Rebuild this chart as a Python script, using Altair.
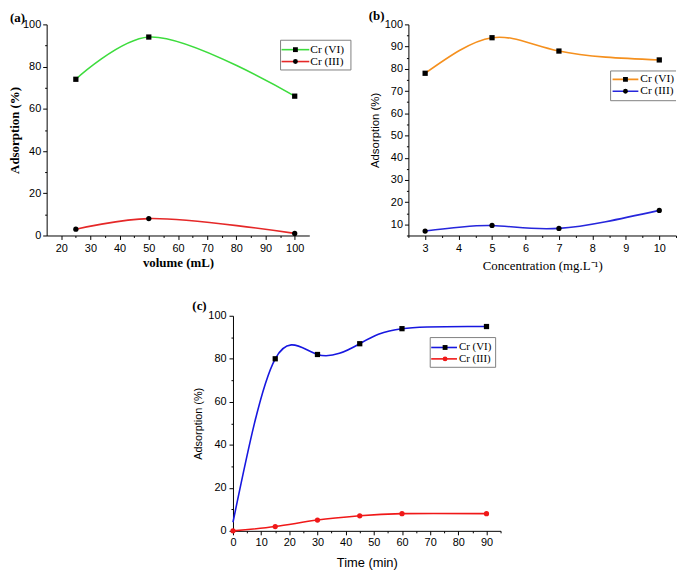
import altair as alt
import pandas as pd

# ---------------- data ----------------
series_names = ["Cr (VI)", "Cr (III)"]

# (a) effect of volume
volume_ml = [25, 50, 100]
vol_cr6 = [74, 94, 66]
vol_cr3 = [3, 8, 1]

# (b) effect of concentration
conc_mgl = [3, 5, 7, 10]
conc_cr6 = [78, 94, 88, 84]
conc_cr3 = [7, 9.5, 8.2, 16.3]

# (c) effect of time
time_min = [0, 15, 30, 45, 60, 90]
time_cr6 = [4, 80, 82, 87, 94, 95]
time_cr3 = [0, 2, 5, 7, 8, 8]

# tick values (major + minor)
a_x_ticks = [20, 25, 30, 35, 40, 45, 50, 55, 60, 65, 70, 75, 80, 85, 90, 95, 100]
a_y_ticks = [0, 10, 20, 30, 40, 50, 60, 70, 80, 90, 100]
b_x_ticks = [2.5, 3, 3.5, 4, 4.5, 5, 5.5, 6, 6.5, 7, 7.5, 8, 8.5, 9, 9.5, 10, 10.5]
b_y_ticks = [5, 10, 15, 20, 25, 30, 35, 40, 45, 50, 55, 60, 65, 70, 75, 80, 85, 90, 95, 100]
c_x_ticks = [0, 5, 10, 15, 20, 25, 30, 35, 40, 45, 50, 55, 60, 65, 70, 75, 80, 85, 90, 95]
c_y_ticks = [0, 10, 20, 30, 40, 50, 60, 70, 80, 90, 100]

SERIF = "Liberation Serif"
SANS = "Liberation Sans"


def axis(values, major, title, tfont, tsize, tweight, tpad, lpad):
    return alt.Axis(
        values=values,
        labelExpr=f"({major}) ? format(datum.value, 'd') : ''",
        tickSize={"condition": {"test": major, "value": 4}, "value": 2},
        labelPadding=lpad, labelFlush=False, labelOverlap=False, grid=False,
        title=title, titleFont=tfont, titleFontSize=tsize,
        titleFontWeight=tweight, titlePadding=tpad,
    )


def panel(xs, ys_list, styles, xdom, ydom, xaxis, yaxis, interp,
          leg, label, width, height):
    X = alt.X("x:Q", scale=alt.Scale(domain=xdom, nice=False, zero=False), axis=xaxis)
    Y = alt.Y("y:Q", scale=alt.Scale(domain=ydom, nice=False, zero=False), axis=yaxis)
    layers = []
    for ys, st in zip(ys_list, styles):
        df = pd.DataFrame({"x": xs, "y": ys})
        layers.append(
            alt.Chart(df).mark_line(color=st["line"], strokeWidth=1.6, interpolate=interp)
            .encode(x=X, y=Y)
        )
    for ys, st in zip(ys_list, styles):
        df = pd.DataFrame({"x": xs, "y": ys})
        pts = alt.Chart(df).mark_point(filled=True, shape=st["shape"], size=28,
                                       color=st["marker"], opacity=1)
        if st.get("filter"):
            pts = pts.transform_filter(st["filter"])
        layers.append(pts.encode(x=X, y=Y))

    one = pd.DataFrame({"k": [0]})
    # legend box
    bx0, bx1, by0, by1 = leg["box"]
    layers.append(
        alt.Chart(one).mark_rect(fill="white", stroke="#808080", strokeWidth=1, clip=leg["clip"])
        .encode(x=alt.value(bx0), x2=alt.value(bx1), y=alt.value(by0), y2=alt.value(by1))
    )
    lx0, lx1 = leg["line"]
    for name, st, ry in zip(series_names, styles, leg["rows"]):
        layers.append(
            alt.Chart(one).mark_rule(color=st["line"], strokeWidth=1.6, clip=leg["clip"])
            .encode(x=alt.value(lx0), x2=alt.value(lx1), y=alt.value(ry))
        )
        layers.append(
            alt.Chart(one).mark_point(filled=True, shape=st["shape"], size=24,
                                      color=st["marker"], opacity=1, clip=leg["clip"])
            .encode(x=alt.value(leg["marker"]), y=alt.value(ry))
        )
        layers.append(
            alt.Chart(pd.DataFrame({"label": [name]}))
            .mark_text(align="left", baseline="middle", font=SERIF,
                       fontSize=leg["size"], color="black")
            .encode(x=alt.value(leg["text"]), y=alt.value(ry), text="label:N")
        )
    # panel label
    layers.append(
        alt.Chart(pd.DataFrame({"label": [label[0]]}))
        .mark_text(align="left", baseline="alphabetic", font=SERIF, fontWeight="bold",
                   fontSize=13, color="black")
        .encode(x=alt.value(label[1]), y=alt.value(label[2]), text="label:N")
    )
    return alt.layer(*layers).properties(width=width, height=height)


# ---------------- panel (a) ----------------
pa = panel(
    volume_ml, [vol_cr6, vol_cr3],
    [{"line": "#3ddc3d", "marker": "black", "shape": "square"},
     {"line": "#e52828", "marker": "black", "shape": "circle"}],
    [15, 105], [0, 100],
    axis(a_x_ticks, "datum.value % 10 == 0", "volume (mL)", SERIF, 13, "bold", 3, 3),
    axis(a_y_ticks, "datum.value % 20 == 0", "Adsorption (%)", SERIF, 13, "bold", 1, 2),
    "catmull-rom",
    {"box": [236, 307, 16, 46], "line": [237, 265], "marker": 251, "text": 266,
     "rows": [25.5, 37.5], "size": 11.5, "clip": False},
    ("(a)", -37, -2), 265, 213,
)

# ---------------- panel (b) ----------------
pb = panel(
    conc_mgl, [conc_cr6, conc_cr3],
    [{"line": "#f5901e", "marker": "black", "shape": "square"},
     {"line": "#2626dc", "marker": "black", "shape": "circle"}],
    [2.5, 10.5], [5, 100],
    axis(b_x_ticks, "datum.value % 1 == 0", "Concentration (mg.L\u207b\u00b9)", SERIF, 13, "normal", 6, 3),
    axis(b_y_ticks, "datum.value % 10 == 0", "Adsorption (%)", SANS, 11.5, "normal", 4, 2),
    "natural",
    {"box": [204, 290, 47, 77], "line": [206, 232], "marker": 219, "text": 234,
     "rows": [55.5, 67.5], "size": 11.5, "clip": True},
    ("(b)", -40, -4), 270, 213,
)

# ---------------- panel (c) ----------------
pc = panel(
    time_min, [time_cr6, time_cr3],
    [{"line": "#1717e0", "marker": "black", "shape": "square", "filter": "datum.x > 0"},
     {"line": "#f01818", "marker": "#f01818", "shape": "circle"}],
    [0, 95], [0, 100],
    axis(c_x_ticks, "datum.value % 10 == 0", "Time (min)", SANS, 13, "normal", 9, 2),
    axis(c_y_ticks, "datum.value % 20 == 0", "Adsorption (%)", SANS, 11, "normal", 4, 3),
    "natural",
    {"box": [199, 265, 22, 52], "line": [200, 226], "marker": 214, "text": 228,
     "rows": [32, 43.5], "size": 11, "clip": False},
    ("(c)", -41, -6), 270, 217,
)

spacer = (
    alt.Chart(pd.DataFrame({"k": [0]})).mark_point(opacity=0, size=1)
    .encode(x=alt.value(0), y=alt.value(0))
    .properties(width=188, height=217)
)

top = alt.hconcat(pa, pb, spacing=100, bounds="flush")
bottom = alt.hconcat(spacer, pc, spacing=0, bounds="flush")
chart = (
    alt.vconcat(top, bottom, spacing=28)
    .properties(padding=0)
    .configure_view(stroke=None)
    .configure_axis(
        labelFont=SANS, labelFontSize=11, labelColor="black",
        domainColor="black", tickColor="black", titleColor="black",
        domainWidth=1, tickWidth=1,
    )
)

chart.save("out.html", embed_options={"renderer": "svg", "actions": False})
